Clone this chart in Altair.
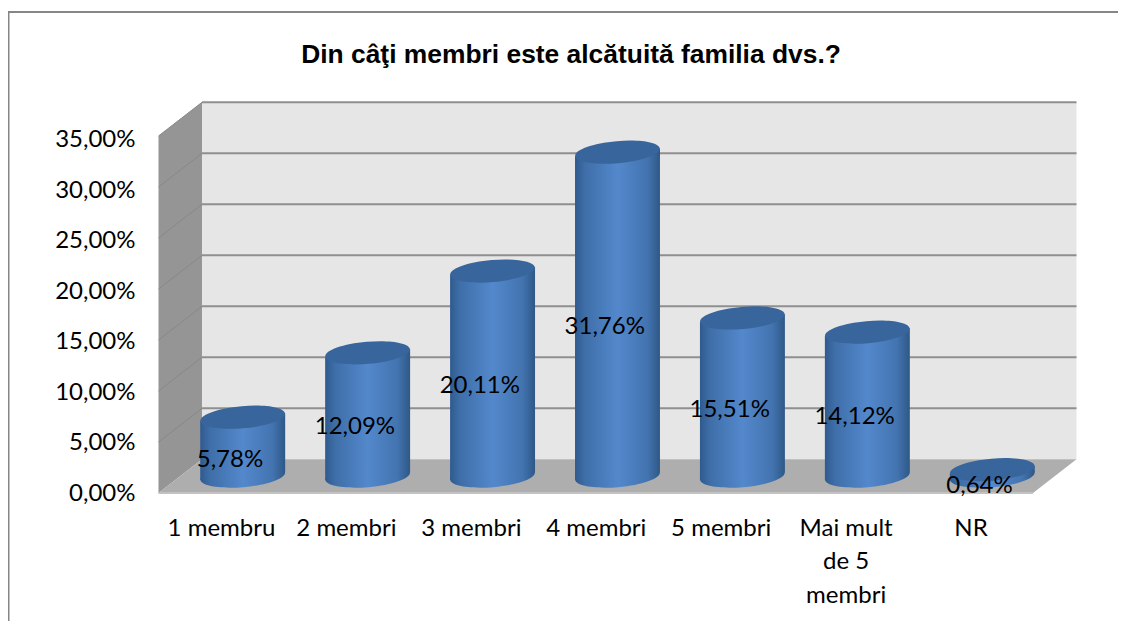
import altair as alt
import pandas as pd

TITLE = "Din câţi membri este alcătuită familia dvs.?"
categories = ["1 membru", "2 membri", "3 membri", "4 membri", "5 membri", "Mai mult de 5 membri", "NR"]
values = [5.78, 12.09, 20.11, 31.76, 15.51, 14.12, 0.64]
value_labels = ["5,78%", "12,09%", "20,11%", "31,76%", "15,51%", "14,12%", "0,64%"]
grid_values = [0, 5, 10, 15, 20, 25, 30, 35]

# chart geometry, in scale units: u = category slots, v = percent
W, H = 1110, 613
PX_U, PX_V = 124.93, 10.2
U0_PAGE, V0_PAGE = 158.5, 493
DEPTH_U, DEPTH_V = 0.348, 3.3
N = len(categories)
VMAX = grid_values[-1]
CYL_HALF = 0.34
TILT = 0.37
x_scale = alt.Scale(domain=[(8 - U0_PAGE) / PX_U, (8 + W - U0_PAGE) / PX_U], nice=False, zero=False)
y_scale = alt.Scale(domain=[(V0_PAGE - 8 - H) / PX_V, (V0_PAGE - 8) / PX_V], nice=False, zero=False)

FONT = "Lato"
FS = 24

centers = [i + 0.5 for i in range(N)]
df = pd.DataFrame({
    "cat": categories,
    "v": values,
    "label": value_labels,
    "u": centers,
    "uc": [c + DEPTH_U / 2 for c in centers],
    "base": [DEPTH_V / 2] * N,
    "top": [v + DEPTH_V / 2 for v in values],
    "mid": [v / 2 for v in values],
})

# the cylinder side: one left and one right row per bar, sloped like the ellipses
body = pd.concat([
    pd.DataFrame({"cat": categories, "x": df.uc - CYL_HALF, "lo": df.base - TILT, "hi": df.top - TILT}),
    pd.DataFrame({"cat": categories, "x": df.uc + CYL_HALF, "lo": df.base + TILT, "hi": df.top + TILT}),
])

X = lambda f: alt.X(f, type="quantitative", scale=x_scale, title=None)
Y = lambda f: alt.Y(f, type="quantitative", scale=y_scale, title=None)

label_lines = {"Mai mult de 5 membri": ["Mai mult", "de 5", "membri"]}
expr_parts = ",".join(
    "[" + ",".join(f"'{s}'" for s in label_lines.get(c, [c])) + "]" for c in categories
)

axes = alt.Chart(df).mark_point(opacity=0).encode(
    x=alt.X("u:Q", scale=x_scale, title=None, axis=alt.Axis(
        values=centers, orient="bottom", offset=-(H - (516 - 8)), domain=False, ticks=False, grid=False,
        labelExpr=f"[{expr_parts}][round(datum.value - 0.5)]",
        labelFont=FONT, labelFontSize=FS, labelColor="#000000", labelPadding=0,
        labelLineHeight=33.5, labelBaseline="top", labelOverlap=False, labelFlush=False)),
    y=alt.Y("mid:Q", scale=y_scale, title=None, axis=alt.Axis(
        values=grid_values, orient="left", offset=-127, domain=False, ticks=False, grid=False,
        labelExpr="replace(format(datum.value, '.2f'), '.', ',') + '%'",
        labelOffset=alt.expr("(datum.value) * 0.11"),
        labelFont=FONT, labelFontSize=FS, labelColor="#000000", labelPadding=0,
        labelOverlap=False, labelFlush=False)),
)

frame_left = alt.Chart(df.head(1)).mark_rule(color="#868686", strokeWidth=2).encode(
    x=alt.value(0.5), y=alt.value(4), y2=alt.value(H))
frame_top = alt.Chart(df.head(1)).mark_rule(color="#868686", strokeWidth=2).encode(
    x=alt.value(0), x2=alt.value(W), y=alt.value(4))

title = alt.Chart(pd.DataFrame({"t": [TITLE], "x": [(571 - U0_PAGE) / PX_U], "y": [(V0_PAGE - 55) / PX_V]})).mark_text(
    font="Liberation Sans", fontSize=26.4, fontWeight="bold", color="#000000", align="center", baseline="middle"
).encode(x=X("x"), y=Y("y"), text="t:N")

back = alt.Chart(pd.DataFrame({"a": [DEPTH_U], "b": [N + DEPTH_U], "c": [DEPTH_V], "d": [VMAX + DEPTH_V]})).mark_rect(
    color="#e6e6e6").encode(x=X("a"), x2="b:Q", y=Y("c"), y2="d:Q")

left = alt.Chart(pd.DataFrame({"a": [0, DEPTH_U], "lo": [0, DEPTH_V], "hi": [VMAX, VMAX + DEPTH_V]})).mark_area(
    color="#959595", orient="vertical").encode(x=X("a"), y=Y("lo"), y2="hi:Q")

floor = alt.Chart(pd.DataFrame({"v": [0, DEPTH_V], "a": [0, DEPTH_U], "b": [N, N + DEPTH_U]})).mark_area(
    color="#aeaeae", orient="horizontal").encode(y=Y("v"), x=X("a"), x2="b:Q")

gdf = pd.DataFrame({
    "v": grid_values,
    "vb": [g + DEPTH_V for g in grid_values],
    "a": [0.0] * len(grid_values),
    "b": [DEPTH_U] * len(grid_values),
    "c": [N + DEPTH_U] * len(grid_values),
})
grid_side = alt.Chart(gdf[gdf.v > 0]).mark_rule(color="#888888", strokeWidth=1).encode(
    x=X("a"), x2="b:Q", y=Y("v"), y2="vb:Q")
grid_back = alt.Chart(gdf[gdf.v > 0]).mark_rule(color="#8f8f8f", strokeWidth=2).encode(
    x=X("b"), x2="c:Q", y=Y("vb"))
floor_edge = alt.Chart(gdf[gdf.v == 0]).mark_rule(color="#c2c2c2", strokeWidth=2).encode(
    x=X("a"), x2=alt.datum(N), y=Y("v"))

body_grad = alt.Gradient(
    gradient="linear", x1=0, x2=1, y1=0, y2=0,
    stops=[
        alt.GradientStop(offset=0, color="#2f5a8e"),
        alt.GradientStop(offset=0.12, color="#3f6fa9"),
        alt.GradientStop(offset=0.5, color="#5388cc"),
        alt.GradientStop(offset=0.85, color="#4374b0"),
        alt.GradientStop(offset=1, color="#2e5887"),
    ])

ELLIPSE = ("M-1,0C-1,-0.144 -0.552,-0.26 0,-0.26C0.552,-0.26 1,-0.144 1,0"
           "C1,0.144 0.552,0.26 0,0.26C-0.552,0.26 -1,0.144 -1,0Z")
CYL_SIZE = (2 * CYL_HALF * PX_U) ** 2

bottoms = alt.Chart(df).mark_point(
    shape=ELLIPSE, filled=True, fill=body_grad, opacity=1, strokeWidth=0, size=CYL_SIZE, angle=355
).encode(x=X("uc"), y=Y("base"))
bodies = alt.Chart(body).mark_area(fill=body_grad, orient="vertical").encode(
    x=X("x"), y=Y("lo"), y2="hi:Q", detail="cat:N")
tops = alt.Chart(df).mark_point(
    shape=ELLIPSE, filled=True, fill="#38669c", opacity=1, strokeWidth=0, size=CYL_SIZE, angle=355
).encode(x=X("uc"), y=Y("top"))

labels = alt.Chart(df).mark_text(
    font=FONT, fontSize=FS, color="#000000", align="center", baseline="middle", dx=9, dy=-4
).encode(x=X("u"), y=Y("mid"), text="label:N")

chart = alt.layer(
    axes, frame_left, frame_top, title, back, left, floor, floor_edge, grid_side, grid_back,
    bottoms, bodies, tops, labels
).properties(
    width=W, height=H, padding=0, autosize=alt.AutoSizeParams(type="none"), background="#ffffff"
).configure_view(stroke=None)

chart.save("out.html", embed_options={"renderer": "svg", "actions": False})
